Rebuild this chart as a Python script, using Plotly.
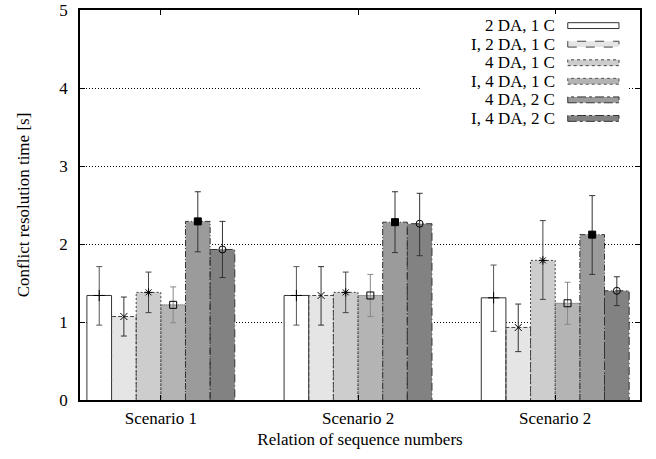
import plotly.graph_objects as go

categories = ["Scenario 1", "Scenario 2", "Scenario 2"]
series_names = ["2 DA, 1 C", "I, 2 DA, 1 C", "4 DA, 1 C", "I, 4 DA, 1 C", "4 DA, 2 C", "I, 4 DA, 2 C"]
values = [
    [1.34, 1.34, 1.31],
    [1.07, 1.34, 0.93],
    [1.38, 1.38, 1.79],
    [1.22, 1.34, 1.24],
    [2.29, 2.28, 2.12],
    [1.93, 2.26, 1.40],
]
err_hi = [
    [1.71, 1.71, 1.73],
    [1.32, 1.71, 1.23],
    [1.64, 1.64, 2.30],
    [1.45, 1.61, 1.51],
    [2.67, 2.67, 2.62],
    [2.29, 2.65, 1.58],
]
err_lo = [
    [0.96, 0.96, 0.88],
    [0.82, 0.96, 0.62],
    [1.12, 1.12, 1.29],
    [0.99, 1.07, 0.97],
    [1.90, 1.89, 1.61],
    [1.57, 1.85, 1.21],
]
y_ticks = [0, 1, 2, 3, 4, 5]

fills = ["#ffffff", "#e5e5e5", "#cdcdcd", "#b4b4b4", "#9b9b9b", "#828282"]
edge_cols = ["#333333", "#444444", "#444444", "#555555", "#333333", "#333333"]
dashes = ["solid", "4px,2px", "2px,2px", "1px,1px", "6px,2px,1px,2px", "8px,3px,1px,3px"]
err_cols = ["#555555", "#333333", "#444444", "#888888", "#333333", "#333333"]
symbols = ["cross-thin-open", "x-thin-open", "asterisk-open", "square-open", "square", "circle-open"]
msizes = [8, 7, 7, 7, 7, 7]

FONT = "Liberation Serif, DejaVu Serif, serif"
FS = 17
n = len(series_names)
bw = 0.75 / n

fig = go.Figure()
for i in range(n):
    off = -0.375 + i * bw
    xs = list(range(len(categories)))
    fig.add_trace(go.Bar(
        x=xs, y=values[i], width=bw, offset=off,
        marker=dict(color=fills[i], line=dict(width=0)),
        showlegend=False, hoverinfo="skip",
    ))
    ox, oy = [], []
    for g, v in zip(xs, values[i]):
        l, r = g + off, g + off + bw
        ox += [l, l, r, r, None]
        oy += [0, v, v, 0, None]
    fig.add_trace(go.Scatter(
        x=ox, y=oy, mode="lines",
        line=dict(color=edge_cols[i], width=1, dash=dashes[i]),
        showlegend=False, hoverinfo="skip",
    ))
    cx = [g + off + bw / 2 for g in xs]
    fig.add_trace(go.Scatter(
        x=cx, y=values[i], mode="markers",
        marker=dict(symbol=symbols[i], size=msizes[i], color="#000000",
                    line=dict(width=1, color="#000000")),
        error_y=dict(type="data", symmetric=False,
                     array=[h - v for h, v in zip(err_hi[i], values[i])],
                     arrayminus=[v - lo for lo, v in zip(err_lo[i], values[i])],
                     color=err_cols[i], thickness=1, width=3),
        showlegend=False, hoverinfo="skip",
    ))

# custom gnuplot-style legend (text left, sample right)
shapes = [dict(type="rect", xref="paper", yref="paper", x0=0.61, x1=0.98, y0=0.695, y1=0.99,
               fillcolor="white", line=dict(width=0), layer="above")]
annotations = []
row_y = [0.960 - k * 0.0476 for k in range(n)]
sx0, sx1 = 0.871, 0.9625
sh = 0.0075
leg_dash = ["solid", "dash", "dot", "dot", "dashdot", "dashdot"]
for k in range(n):
    shapes.append(dict(type="rect", xref="paper", yref="paper", x0=sx0, x1=sx1,
                       y0=row_y[k] - sh, y1=row_y[k] + sh,
                       fillcolor=fills[k], line=dict(color=edge_cols[k], width=1, dash=leg_dash[k]),
                       layer="above"))
    annotations.append(dict(xref="paper", yref="paper", x=0.852, y=row_y[k], text=series_names[k],
                            showarrow=False, xanchor="right", yanchor="middle",
                            font=dict(family=FONT, size=FS, color="black")))
fig.add_trace(go.Scatter(
    x=[(sx0 + sx1) / 2] * n, y=row_y, mode="markers", xaxis="x2", yaxis="y2",
    marker=dict(symbol=symbols, size=msizes, color="#000000", line=dict(width=1, color="#000000")),
    showlegend=False, hoverinfo="skip",
))
fig.add_trace(go.Scatter(
    x=[sx0, sx1], y=[row_y[0], row_y[0]], mode="lines", xaxis="x2", yaxis="y2",
    line=dict(color="#333333", width=1), showlegend=False, hoverinfo="skip",
))

fig.update_layout(
    width=656, height=459,
    margin=dict(l=80, r=16, t=10, b=59),
    paper_bgcolor="white", plot_bgcolor="white",
    barmode="overlay",
    font=dict(family=FONT, size=FS, color="black"),
    shapes=shapes, annotations=annotations,
    xaxis=dict(
        range=[-0.41, 2.43], tickvals=[0, 1, 2], ticktext=categories,
        showgrid=False, zeroline=False, showline=True, linecolor="black", linewidth=1.5,
        mirror="allticks", ticks="inside", ticklen=5, tickcolor="black",
        ticklabelstandoff=2, automargin=False,
        title=dict(text="Relation of sequence numbers", standoff=6, font=dict(size=FS)),
    ),
    yaxis=dict(
        range=[0, 5], tickvals=y_ticks,
        showgrid=True, gridcolor="black", gridwidth=1, griddash="1px,2px",
        zeroline=False, showline=True, linecolor="black", linewidth=1.5,
        mirror="allticks", ticks="inside", ticklen=5, tickcolor="black",
        ticklabelstandoff=7, automargin=False, ticklabeloverflow="allow",
        title=dict(text="Conflict resolution time [s]", standoff=25, font=dict(size=FS)),
    ),
    xaxis2=dict(overlaying="x", range=[0, 1], visible=False),
    yaxis2=dict(overlaying="y", range=[0, 1], visible=False),
)

fig.write_html("out.html", config={"displayModeBar": False},
               post_script="document.body.style.margin='0';")
